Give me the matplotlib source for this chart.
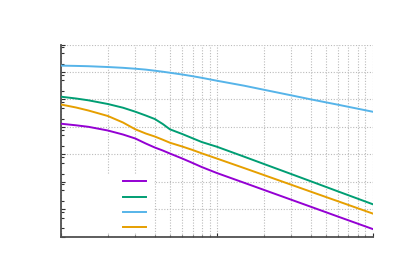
import matplotlib
matplotlib.use("Agg")
import matplotlib.pyplot as plt
from matplotlib.ticker import LogLocator, NullFormatter
from matplotlib.lines import Line2D
from matplotlib.patches import Rectangle

# data
x = [1, 1.25, 1.5, 2, 2.5, 3, 3.5, 4, 4.5, 5, 6, 7, 8, 10, 15, 20, 30, 40, 60, 100]
s_purple = [0.01303, 0.01140, 0.01005, 0.007368, 0.005269, 0.003767, 0.002477,
            0.001771, 0.001377, 0.001071, 7.04e-4, 4.83e-4, 3.45e-4, 2.09e-4,
            9.18e-5, 5.10e-5, 2.23e-5, 1.24e-5, 5.40e-6, 1.91e-6]
s_green = [0.1254, 0.1079, 0.09274, 0.06800, 0.04984, 0.03566, 0.02593, 0.01933,
           0.01271, 0.008149, 0.005495, 0.003832, 0.002810, 0.001894, 8.19e-4,
           4.48e-4, 1.92e-4, 1.05e-4, 4.46e-5, 1.53e-5]
s_blue = [1.702, 1.660, 1.618, 1.513, 1.415, 1.312, 1.217, 1.110, 1.020, 0.938,
          0.807, 0.700, 0.612, 0.480, 0.3154, 0.2255, 0.1410, 0.1008, 0.0641, 0.03566]
s_orange = [0.06521, 0.05070, 0.03943, 0.02486, 0.01442, 0.008149, 0.005730,
            0.004455, 0.003407, 0.002649, 0.001926, 0.001437, 0.001089, 7.04e-4,
            3.15e-4, 1.77e-4, 7.83e-5, 4.39e-5, 1.95e-5, 7.00e-6]
series = [s_purple, s_green, s_blue, s_orange]
colors = ["#9400D3", "#009E73", "#56B4E9", "#E69F00"]
labels = [" ", " ", " ", " "]

W, H = 400, 279
fig = plt.figure(figsize=(W / 100, H / 100), dpi=100)
ax = fig.add_axes([61 / W, 1 - 236.7 / H, (372.6 - 61) / W, (236.7 - 44.5) / H])
ax.set_xscale("log")
ax.set_yscale("log")
ax.set_xlim(1, 100)
ax.set_ylim(1e-6, 1e1)

ax.set_axisbelow(True)
ax.xaxis.set_major_locator(LogLocator(base=10, numticks=20))
ax.xaxis.set_minor_locator(LogLocator(base=10, subs=range(2, 10), numticks=20))
ax.yaxis.set_major_locator(LogLocator(base=10, numticks=20))
ax.yaxis.set_minor_locator(LogLocator(base=10, subs=[2, 5, 8], numticks=20))
ax.xaxis.set_minor_formatter(NullFormatter())
ax.yaxis.set_minor_formatter(NullFormatter())
ax.tick_params(which="both", direction="in", labelleft=False, labelbottom=False,
               color="#303030", width=0.8, top=False, right=False)
ax.tick_params(which="major", length=3.2)
ax.tick_params(which="minor", length=1.8)

gkw = dict(color="#bbbbbb", linestyle=(0, (1, 1.5)), linewidth=0.8)
ax.grid(True, which="major", axis="both", **gkw)
ax.grid(True, which="minor", axis="x", **gkw)

for side in ["top", "right"]:
    ax.spines[side].set_visible(False)
for side in ["left", "bottom"]:
    ax.spines[side].set_color("#505050")
    ax.spines[side].set_linewidth(1.3)

for s, c, lab in zip(series, colors, labels):
    ax.plot(x, s, color=c, linewidth=1.4, label=lab, zorder=3)

# key background covering the grid
px2ax = lambda px, py: ((px - 61) / (372.6 - 61), (236.7 - py) / (236.7 - 44.5))
x0, y0 = px2ax(66, 232)
x1, y1 = px2ax(154, 175)
ax.add_patch(Rectangle((x0, y0), x1 - x0, y1 - y0, transform=ax.transAxes,
                       facecolor="white", edgecolor="none", zorder=1))

handles = [Line2D([], [], color=c, linewidth=1.4) for c in colors]
ax.legend(handles, labels, loc="upper left",
          bbox_to_anchor=(123 / W, 1 - 175 / H), bbox_transform=fig.transFigure,
          frameon=False, borderpad=0, borderaxespad=0, handlelength=23 / 13.9,
          handletextpad=0, labelspacing=0.1, fontsize=10)

fig.savefig("out.png", dpi=100)
